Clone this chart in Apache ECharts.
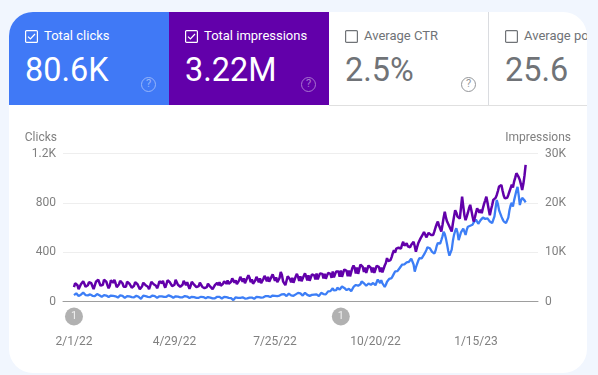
<!DOCTYPE html>
<html>
<head>
<meta charset="utf-8">
<title>Search performance</title>
<script src="https://cdn.jsdelivr.net/npm/echarts@6/dist/echarts.min.js"></script>
<style>
  html, body { margin: 0; padding: 0; width: 598px; height: 375px; overflow: hidden; background: #f1f6fe; font-family: Roboto, sans-serif; }
  #card { position: absolute; left: 9px; top: 12px; width: 578px; height: 361px; background: #fff; border-radius: 24px; overflow: hidden; }
  .metric { position: absolute; top: 0; height: 93px; width: 160px; box-sizing: border-box; color: #707377; }
  .metric svg { position: absolute; }
  .metric .label { position: absolute; left: 35px; top: 15px; font-size: 13px; line-height: 17px; white-space: nowrap; }
  .metric .value { position: absolute; left: 16px; top: 39px; font-size: 32.4px; line-height: 38px; white-space: nowrap; }
  .metric .help { position: absolute; left: 132px; top: 65px; width: 15px; height: 15px; box-sizing: border-box; border: 1.5px solid; border-radius: 50%; font-size: 11px; line-height: 12px; text-align: center; opacity: .75; }
  .on { color: #fff; }
  .on .help { opacity: .45; }
  #rule { position: absolute; left: 320px; right: 0; top: 93px; height: 1px; background: #e0e0e0; }
  #divider { position: absolute; left: 479px; top: 0; width: 1px; height: 93px; background: #dadce0; }
  #chart { position: absolute; left: 0; top: 0; width: 598px; height: 375px; }
</style>
</head>
<body>
<div id="card">
  <div class="metric on" style="left:0;background:#4079f6">
    <svg style="left:16px;top:18px" width="13" height="13" viewBox="0 0 13 13"><rect x=".6" y=".6" width="11.8" height="11.8" fill="none" stroke="currentColor" stroke-width="1.2" rx="1"/><path d="M3 6.6l2.4 2.4 4.6-5" fill="none" stroke="currentColor" stroke-width="1.2"/></svg>
    <div class="label">Total clicks</div><div class="value">80.6K</div><div class="help">?</div>
  </div>
  <div class="metric on" style="left:160px;background:#6200aa">
    <svg style="left:16px;top:18px" width="13" height="13" viewBox="0 0 13 13"><rect x=".6" y=".6" width="11.8" height="11.8" fill="none" stroke="currentColor" stroke-width="1.2" rx="1"/><path d="M3 6.6l2.4 2.4 4.6-5" fill="none" stroke="currentColor" stroke-width="1.2"/></svg>
    <div class="label">Total impressions</div><div class="value">3.22M</div><div class="help">?</div>
  </div>
  <div class="metric" style="left:320px">
    <svg style="left:16px;top:18px" width="13" height="13" viewBox="0 0 13 13"><rect x=".6" y=".6" width="11.8" height="11.8" fill="none" stroke="currentColor" stroke-width="1.2" rx="1"/></svg>
    <div class="label">Average CTR</div><div class="value">2.5%</div><div class="help">?</div>
  </div>
  <div class="metric" style="left:480px;width:98px;overflow:hidden">
    <svg style="left:16px;top:18px" width="13" height="13" viewBox="0 0 13 13"><rect x=".6" y=".6" width="11.8" height="11.8" fill="none" stroke="currentColor" stroke-width="1.2" rx="1"/></svg>
    <div class="label">Average position</div><div class="value">25.6</div>
  </div>
  <div id="divider"></div>
  <div id="rule"></div>
</div>
<div id="chart"></div>
<script>
// days since 2/1/22, one value per day, a row is a week
var clicks = [
  52,60,66,58,45,40,55,
  62,72,64,52,44,50,60,
  58,54,46,40,44,56,60,
  54,50,44,38,42,52,54,
  48,42,36,38,48,52,46,
  48,42,34,32,42,50,48,
  46,38,30,34,44,48,42,
  44,36,30,34,42,46,40,
  38,26,22,36,48,52,44,
  46,38,32,36,44,48,42,
  44,36,30,34,42,46,42,
  46,38,34,38,46,50,44,
  42,36,30,34,42,44,40,
  40,34,30,34,42,44,38,
  40,34,28,32,38,42,36,
  36,30,26,30,36,38,34,
  36,30,26,28,36,38,32,
  34,26,22,26,34,38,34,
  38,32,24,28,38,42,36,
  36,30,24,28,20,12,24,
  34,38,30,26,30,36,34,
  30,24,18,26,34,32,28,
  32,26,22,28,38,40,36,
  38,32,28,34,42,44,40,
  44,38,36,42,48,50,46,
  48,44,42,48,56,58,52,
  60,50,44,52,64,62,50,
  60,46,44,58,68,70,56,
  66,54,48,58,70,66,54,
  60,46,42,54,62,56,48,
  58,46,44,58,70,72,60,
  70,58,72,82,90,84,74,
  108,90,76,92,112,108,96,
  112,122,126,110,94,92,108,
  104,88,84,98,118,124,134,
  148,128,118,140,162,170,148,
  150,128,124,146,160,136,126,
  150,140,132,156,178,172,150,
  172,148,132,118,136,160,176,
  184,198,190,208,226,244,256,
  246,258,272,288,298,290,302,
  312,318,305,322,336,348,354,
  300,242,276,304,330,352,340,
  350,362,380,398,416,440,448,
  432,418,402,392,388,412,450,
  474,486,470,498,528,566,548,
  510,462,410,372,362,420,490,
  540,572,594,560,498,528,560,
  572,590,566,540,580,606,622,
  614,600,622,640,650,664,650,
  630,644,660,672,680,676,670,
  664,674,660,648,640,636,634,
  690,760,823,790,740,715,690,
  668,650,640,636,634,680,740,
  780,800,770,820,860,900,930,
  860,782,820,840,850,820,804
]
var impressions = [
  2900,3700,3900,3300,2500,2400,3500,
  3800,4100,3600,3000,2600,3300,3900,
  4100,3700,3100,2500,2900,4000,4300,
  4400,3800,3200,2800,3400,4400,4500,
  4000,3300,2700,3200,4300,4500,3800,
  4400,3700,2900,2700,3500,4200,4000,
  3700,3000,2600,3000,4000,4200,3600,
  3500,2800,2500,3200,3900,4100,3500,
  3000,2500,2400,3100,3800,4000,3300,
  3700,3000,2500,3200,4000,4100,3500,
  3900,3200,2700,3300,4100,4300,3700,
  4200,3400,2800,3500,4300,4600,3900,
  4000,3100,2700,3400,4400,4100,3400,
  3700,3000,2700,3400,4200,3900,3300,
  3900,3200,2600,3200,4000,4200,3400,
  3600,2900,2500,3100,3800,3600,3000,
  3400,2700,2400,2900,3600,3700,3000,
  2900,2500,2700,3300,3700,3800,3300,
  3900,3200,2900,3600,4100,4200,3600,
  4300,3600,3200,4000,4700,4500,3800,
  4300,3500,3200,4300,5000,4800,4000,
  4700,3700,3500,4800,5300,4800,3900,
  4500,3600,3300,4300,5000,4600,3900,
  4700,3700,3500,4600,5200,5000,4100,
  5000,4000,3800,5000,5500,5200,4200,
  4900,3900,3700,4800,6000,5400,4100,
  3700,3300,4200,5100,5400,4500,3900,
  4800,3800,4000,5100,5600,5000,4200,
  5100,4100,4000,5200,5700,5100,4300,
  5300,4200,4200,5500,5900,5300,4500,
  5700,4500,4300,5700,6100,5600,4700,
  5600,4600,4400,5800,6200,5600,4800,
  6100,4900,4600,6100,6500,6100,5000,
  6300,5000,4900,6500,6800,6200,5100,
  6300,5100,5400,6800,7300,6800,5700,
  6900,5600,6000,7500,7800,7000,6000,
  6900,5800,6000,7300,7600,6800,5900,
  6900,5800,6000,7200,7500,7000,6000,
  6900,5900,6300,7300,7800,8800,8200,
  8000,8400,9000,9800,10400,9900,10700,
  10400,10900,11100,10700,11500,12100,11300,
  11600,11800,11200,10800,11000,11500,11900,
  12100,11200,10100,11000,11800,12200,12800,
  13200,13600,14100,13600,13000,13300,13900,
  14000,13500,13800,13500,14200,15000,15700,
  16200,15400,14800,14200,15500,17000,18200,
  17000,16200,15700,15200,15500,14200,15800,
  17200,18500,18000,17200,17600,16800,19000,
  21250,19300,17500,16500,17200,18000,18900,
  19600,18500,17300,16200,17000,18000,18900,
  18500,18000,18600,17900,18900,19800,20500,
  21250,20000,18700,17500,18600,19500,20600,
  20300,21000,21600,22400,23300,23000,23600,
  22500,21500,20900,21300,21000,21600,22300,
  23000,23700,23100,24300,25100,26000,25900,
  25200,24600,23700,22600,23800,25500,27700
]
var tickDays = [0, 87, 174, 261, 348]
var tickLabels = ['2/1/22', '4/29/22', '7/25/22', '10/20/22', '1/15/23']
var annotationDays = [0, 231]
var annotationLabel = '1'

function withDay(list) {
  return list.map(function (v, i) { return [i, v] })
}

var myChart = echarts.init(document.getElementById('chart'))
var option = {
  animation: false,
  textStyle: { fontFamily: 'Roboto' },
  grid: { left: 63, right: 60, top: 153.5, bottom: 73.5 },
  xAxis: {
    type: 'value',
    min: -9.5,
    max: 401.7,
    splitLine: { show: false },
    axisTick: { show: false },
    axisLine: { onZero: false, lineStyle: { color: '#9e9e9e', width: 1 } },
    axisLabel: {
      customValues: tickDays,
      margin: 34,
      color: '#808080',
      fontSize: 12,
      formatter: function (v) { return tickLabels[tickDays.indexOf(v)] }
    }
  },
  yAxis: [{
    type: 'value',
    name: 'Clicks',
    nameLocation: 'end',
    nameGap: 10,
    nameTextStyle: { color: '#808080', fontSize: 12, align: 'right', padding: [0, 17, 0, 0] },
    min: 0,
    max: 1200,
    interval: 400,
    axisLine: { show: false },
    axisTick: { show: false },
    axisLabel: {
      margin: 7,
      color: '#808080',
      fontSize: 12,
      formatter: function (v) { return v >= 1000 ? (v / 1000) + 'K' : v }
    },
    splitLine: { lineStyle: { color: '#eeeeee', width: 1 } }
  }, {
    type: 'value',
    name: 'Impressions',
    nameLocation: 'end',
    nameGap: 10,
    nameTextStyle: { color: '#808080', fontSize: 12, align: 'right', padding: [0, -33, 0, 0] },
    min: 0,
    max: 30000,
    interval: 10000,
    axisLine: { show: false },
    axisTick: { show: false },
    axisLabel: {
      margin: 7,
      color: '#808080',
      fontSize: 12,
      formatter: function (v) { return v >= 1000 ? (v / 1000) + 'K' : v }
    },
    splitLine: { show: false }
  }],
  series: [{
    name: 'Clicks',
    type: 'line',
    yAxisIndex: 0,
    data: withDay(clicks),
    showSymbol: false,
    lineStyle: { color: '#3d7ef6', width: 2.3 }
  }, {
    name: 'Impressions',
    type: 'line',
    yAxisIndex: 1,
    data: withDay(impressions),
    showSymbol: false,
    lineStyle: { color: '#6200aa', width: 2.5 }
  }, {
    name: 'Annotations',
    type: 'scatter',
    yAxisIndex: 0,
    clip: false,
    silent: true,
    data: annotationDays.map(function (d) { return [d, 0] }),
    symbol: 'circle',
    symbolSize: 18,
    symbolOffset: [0, 15],
    itemStyle: { color: '#9e9e9e' },
    label: {
      show: true,
      position: 'inside',
      color: '#fff',
      fontSize: 11,
      formatter: annotationLabel
    }
  }]
}
myChart.setOption(option)
window.addEventListener('resize', function () { myChart.resize() })
</script>
</body>
</html>
